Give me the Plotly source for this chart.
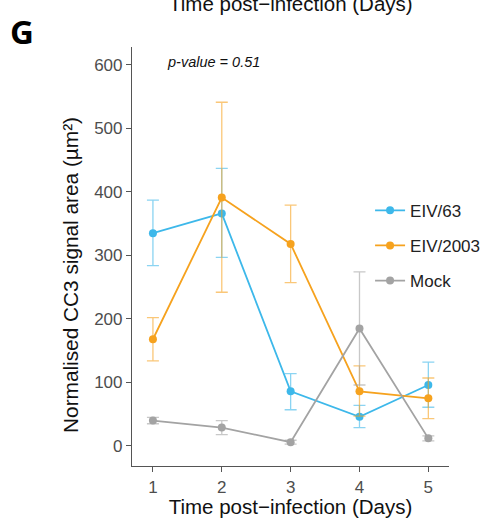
import plotly.graph_objects as go

days = [1, 2, 3, 4, 5]
series = ["EIV/63", "EIV/2003", "Mock"]
eiv63 = [335, 366, 86, 46, 96]
eiv63_hi = [387, 437, 114, 64, 132]
eiv63_lo = [284, 297, 57, 29, 61]
eiv2003 = [168, 391, 318, 86, 75]
eiv2003_hi = [202, 541, 379, 126, 107]
eiv2003_lo = [134, 242, 257, 47, 43]
mock = [40, 29, 6, 185, 12]
mock_hi = [45, 40, 9, 274, 16]
mock_lo = [35, 18, 3, 96, 8]

colors = ["#3DB8EA", "#F6A21E", "#A3A3A3"]
err_colors = ["rgba(61,184,234,0.6)", "rgba(246,162,30,0.6)", "rgba(163,163,163,0.6)"]

FONT = "Liberation Sans, Arial, Helvetica, sans-serif"
fig = go.Figure()
data = [(eiv63, eiv63_hi, eiv63_lo), (eiv2003, eiv2003_hi, eiv2003_lo), (mock, mock_hi, mock_lo)]
for name, (v, hi, lo), c, ec in zip(series, data, colors, err_colors):
    fig.add_trace(go.Scatter(
        x=days, y=v, name=name, mode="lines+markers", legendgroup=name,
        line=dict(color=c, width=1.8),
        marker=dict(color=c, size=8),
        error_y=dict(type="data", symmetric=False,
                     array=[h - y for h, y in zip(hi, v)],
                     arrayminus=[y - l for y, l in zip(v, lo)],
                     color=ec, thickness=1.3, width=6),
    ))

fig.update_layout(
    width=486, height=518,
    margin=dict(l=132, r=37, t=47, b=52, autoexpand=False),
    plot_bgcolor="white", paper_bgcolor="white",
    font=dict(family=FONT, color="#222222"),
    showlegend=True,
    legend=dict(x=0.751, y=0.652, xanchor="left", yanchor="top",
                font=dict(size=17, color="#222222", family=FONT),
                bgcolor="rgba(0,0,0,0)", tracegroupgap=10, itemwidth=30),
    xaxis=dict(range=[0.696, 5.30], tickvals=days, ticktext=[str(d) for d in days],
               showgrid=False, zeroline=False, showline=True, linecolor="#555555", linewidth=1.2,
               ticks="outside", ticklen=5, tickcolor="#555555", automargin=False,
               tickfont=dict(size=17, color="#4D4D4D"),
               title=dict(text="Time post\u2212infection (Days)", font=dict(size=20.5, color="#111111"), standoff=3)),
    yaxis=dict(range=[-31.5, 628], tickvals=[0, 100, 200, 300, 400, 500, 600],
               showgrid=False, zeroline=False, showline=True, linecolor="#555555", linewidth=1.2,
               ticks="outside", ticklen=5, tickcolor="#555555", automargin=False,
               tickfont=dict(size=17, color="#4D4D4D")),
)

fig.add_annotation(text="Normalised CC3 signal area (\u00b5m\u00b2)", xref="paper", yref="paper",
                   x=0, xshift=-61, y=0.456, xanchor="center", yanchor="middle", textangle=-90,
                   showarrow=False, font=dict(size=20.8, color="#111111", family=FONT))
fig.add_annotation(text="<i>p-value = 0.51</i>", xref="paper", yref="paper",
                   x=0.105, y=0.965, xanchor="left", yanchor="middle", showarrow=False,
                   font=dict(size=14.5, color="#111111", family=FONT))
fig.add_annotation(text="<b>G</b>", xref="paper", yref="paper",
                   x=-0.39, y=1.038, xanchor="left", yanchor="middle", showarrow=False,
                   font=dict(size=33, color="#000000", family="Open Sans, sans-serif"))
fig.add_annotation(text="Time post\u2212infection (Days)", xref="paper", yref="paper",
                   x=0.5, y=1.0, yshift=44, xanchor="center", yanchor="middle", showarrow=False,
                   font=dict(size=20.5, color="#111111", family=FONT))

fig.write_html("out.html")
